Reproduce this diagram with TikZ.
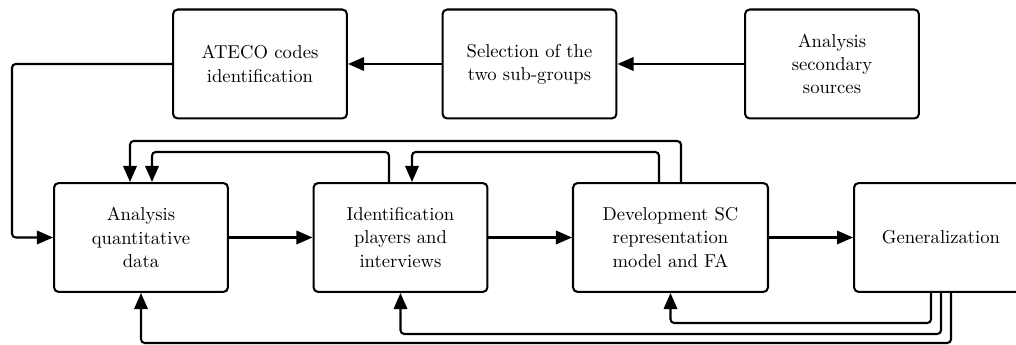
\documentclass[tikz,border=0pt]{standalone}
\usetikzlibrary{arrows.meta}
\begin{document}
\begin{tikzpicture}[x=0.537pt, y=-0.537pt,
  box/.style={draw, line width=1.1pt, rounded corners=2.5pt,
    minimum width=93.4pt, minimum height=58.5pt, align=center,
    font=\fontsize{10}{12.5}\selectfont},
  link/.style={line width=1.1pt, rounded corners=2pt,
    -{Triangle[length=8.6pt,width=7.2pt]}},
  plain/.style={line width=1.1pt, rounded corners=2pt}]
\clip (0,0) rectangle (1016,345);

% top row
\node[box] (ateco)  at (260,64)   {ATECO codes\\identification};
\node[box] (select) at (529.5,64) {Selection of the\\two sub-groups};
\node[box] (second) at (832,64)   {Analysis\\secondary\\sources};

% bottom row
\node[box] (quant) at (141,237.5)   {Analysis\\quantitative\\data};
\node[box] (ident) at (400.5,237.5) {Identification\\players and\\interviews};
\node[box, minimum width=104.7pt] (dev) at (670.5,237.5) {Development SC\\representation\\model and FA};
\node[box] (gen) at (941,237.5) {Generalization};

% routing lanes
\coordinate (lane) at (12,0);
\coordinate (t1) at (0,141);
\coordinate (t2) at (0,152);
\coordinate (b1) at (0,323);
\coordinate (b2) at (0,334);
\coordinate (b3) at (0,343);
\coordinate (x130) at (130,0);
\coordinate (x152) at (152,0);
\coordinate (x389) at (389,0);
\coordinate (x412) at (412,0);
\coordinate (x659) at (659,0);
\coordinate (x681) at (681,0);
\coordinate (x931) at (931,0);
\coordinate (x941) at (941,0);
\coordinate (x951) at (951,0);

% main flow
\draw[link] (second) -- (select);
\draw[link] (select) -- (ateco);
\draw[link] (ateco.west) -| (lane |- quant.west) -- (quant.west);
\draw[link] (quant) -- (ident);
\draw[link] (ident) -- (dev);
\draw[link] (dev) -- (gen);

% feedback above
\draw[link] (x681 |- dev.north) -- (x681 |- t1) -- (x130 |- t1) -- (x130 |- quant.north);
\draw[link] (x389 |- ident.north) -- (x389 |- t2) -- (x152 |- t2) -- (x152 |- quant.north);
\draw[link] (x659 |- dev.north) -- (x659 |- t2) -- (x412 |- t2) -- (x412 |- ident.north);

% feedback below
\draw[link] (x931 |- gen.south) -- (x931 |- b1) -- (dev.south |- b1) -- (dev.south);
\draw[link] (x941 |- gen.south) -- (x941 |- b2) -- (ident.south |- b2) -- (ident.south);
\draw[link] (x951 |- gen.south) -- (x951 |- b3) -- (quant.south |- b3) -- (quant.south);
\end{tikzpicture}
\end{document}
